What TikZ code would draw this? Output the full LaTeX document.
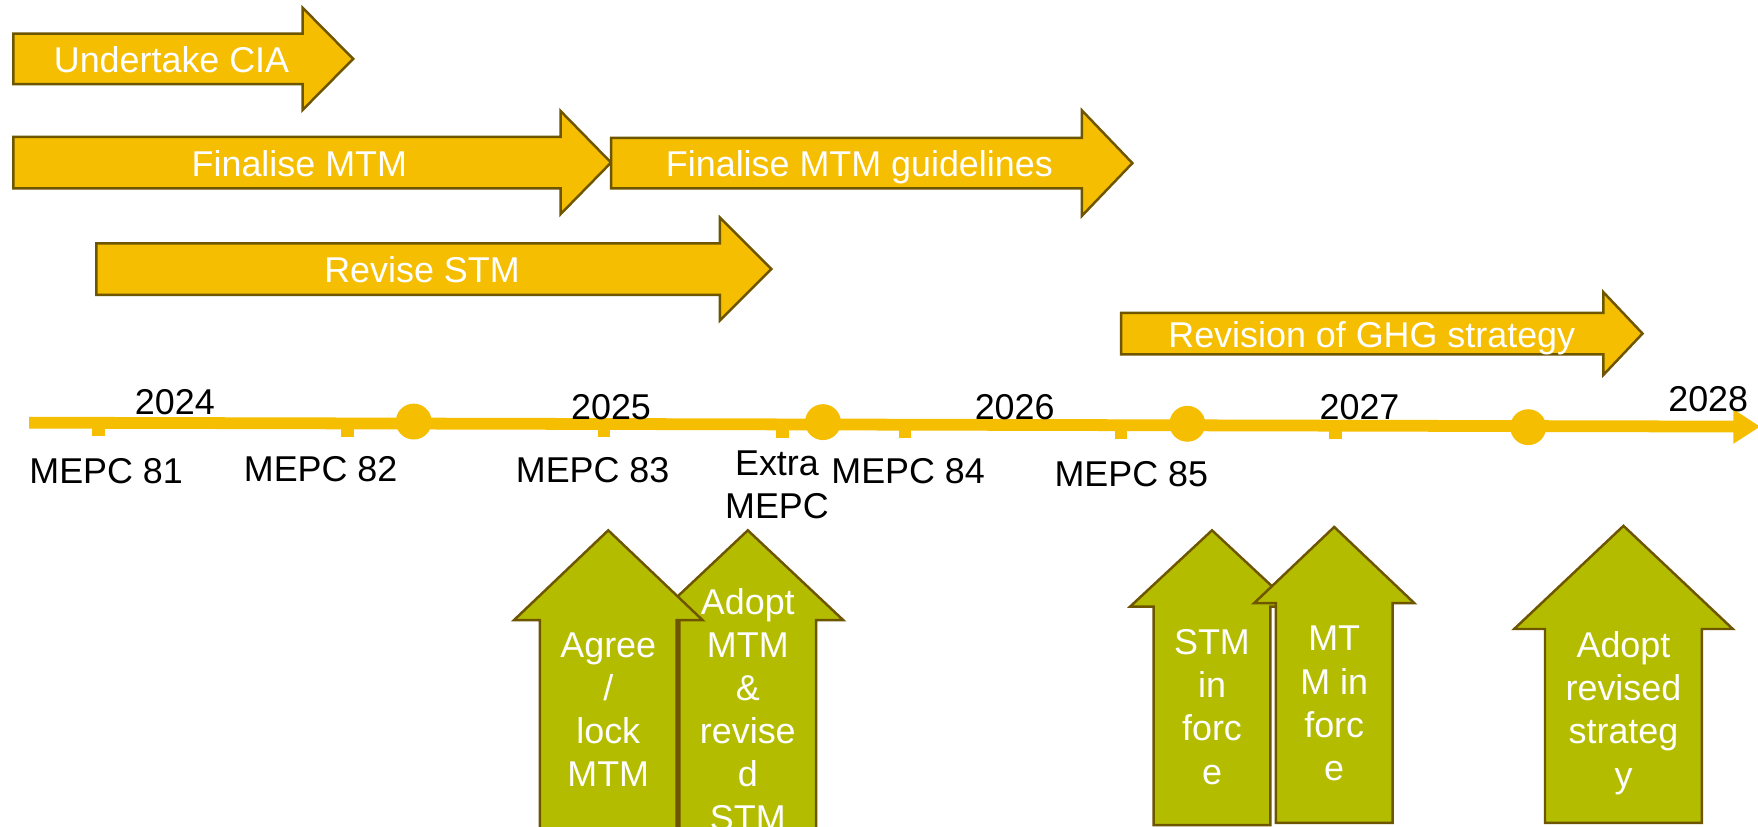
\documentclass[tikz,border=0pt]{standalone}
\usepackage{fontspec}
\setmainfont{Liberation Sans}
\usetikzlibrary{arrows.meta}

\definecolor{gold}{HTML}{F5BE00}
\definecolor{leaf}{HTML}{B4BC00}
\definecolor{rim}{HTML}{6E5600}
\newcommand\slidefont{\fontsize{32}{38.5}\selectfont}

\begin{document}
\begin{tikzpicture}[x=1pt, y=-1pt,
        bar/.style={draw=rim, fill=gold, line width=2.2pt},
        lift/.style={draw=rim, fill=leaf, line width=2.2pt},
        bartext/.style={text=white, font=\slidefont, anchor=base, inner sep=0pt},
        lifttext/.style={text=white, font=\slidefont, align=center, inner sep=0pt},
        label/.style={text=black, font=\slidefont, anchor=base, inner sep=0pt, align=center},
        axis/.style={gold, line width=10.5pt, -{Triangle[length=24pt, width=29pt]}} ]
    \useasboundingbox[fill=white] (0,0) rectangle (1568,737);

    % work packages above the time line
    \foreach \name/\xa/\yc/\xb/\xt/\hs/\hh/\tx/\txt in {
        cia/12/52.5/270/315/22.5/45.5/153/Undertake CIA,
        finmtm/12/145/500/545/23/46/267/Finalise MTM,
        guidelines/545/145.5/965/1010/22.5/47/766.5/Finalise MTM guidelines,
        revstm/86/240/642/688/23/46/376.4/Revise STM,
        ghg/1000/297.5/1430/1465/18.5/37/1223.5/Revision of GHG strategy}
    {
        \draw[bar] (\xa,{\yc-\hs}) -- (\xb,{\yc-\hs}) -- (\xb,{\yc-\hh}) -- (\xt,\yc)
            -- (\xb,{\yc+\hh}) -- (\xb,{\yc+\hs}) -- (\xa,{\yc+\hs}) -- cycle;
        \node[bartext] (\name) at (\tx,{\yc+12}) {\txt};
    }

    % time line
    \coordinate (start) at (26,377);
    \coordinate (end) at (1570,380.5);
    \draw[axis] (start) -- (end);
    \foreach \x in {88,310,539,698,807,1000,1191}
        \fill[gold] ({\x-5.5},{377+(\x-26)*0.0023}) rectangle ++(11,12);
    \foreach \x/\y in {369/376, 734/376.5, 1059/378, 1363/381}
        \fill[gold] (\x,\y) circle (16pt);

    \node[label] (y2024) at (156,369.5) {2024};
    \node[label] (y2025) at (545,374) {2025};
    \node[label] (y2026) at (905,374) {2026};
    \node[label] (y2027) at (1212.6,374) {2027};
    \node[label] (y2028) at (1523.6,367) {2028};

    \node[label] (m81) at (94.7,431) {MEPC 81};
    \node[label] (m82) at (286,429.6) {MEPC 82};
    \node[label] (m83) at (528.6,430) {MEPC 83};
    \node[label, anchor=center] (extra) at (693,432.4) {Extra\\MEPC};
    \node[label] (m84) at (810,431) {MEPC 84};
    \node[label] (m85) at (1009,433.5) {MEPC 85};

    % decisions below the time line
    \foreach \name/\xc/\ya/\hw/\yb/\sw/\ybot/\ty/\txt in {
        adopt/667/473/85/553/61/760/632.6/{Adopt\\MTM\\\&\\revise\\d\\STM},
        agree/542.5/473/84/553/61/760/633/{Agree\\{/}\\lock\\MTM},
        stmforce/1081/473/73/541/52/736/630.5/{STM\\in\\forc\\e},
        mtmforce/1190/470/71.5/538/52/734/627.5/{MT\\M in\\forc\\e},
        adoptghg/1448/469/97.5/561/70/734/636/{Adopt\\revised\\strateg\\y}}
    {
        \draw[lift] ({\xc-\sw},\ybot) -- ({\xc-\sw},\yb) -- ({\xc-\hw},\yb) -- (\xc,\ya)
            -- ({\xc+\hw},\yb) -- ({\xc+\sw},\yb) -- ({\xc+\sw},\ybot) -- cycle;
        \node[lifttext] (\name) at (\xc,\ty) {\txt};
    }
\end{tikzpicture}
\end{document}
